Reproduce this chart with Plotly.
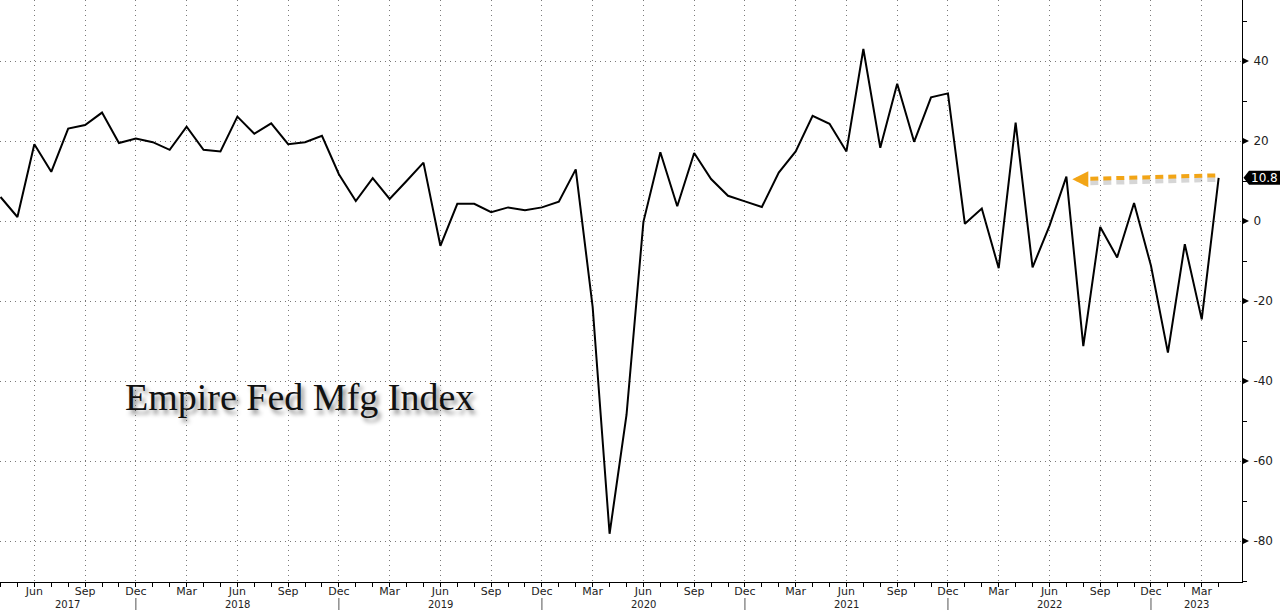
import pandas as pd
import plotly.graph_objects as go

# ---------------- data ----------------
months = pd.date_range("2017-04-01", "2023-04-01", freq="MS")
values = [
    6.0, 1.0, 19.2, 12.3, 23.1, 24.0, 27.1, 19.5, 20.6,                 # 2017 Apr-Dec
    19.7, 17.8, 23.6, 17.8, 17.4, 26.1, 21.8, 24.4, 19.2, 19.7, 21.3, 11.7,  # 2018
    5.0, 10.7, 5.5, 10.0, 14.6, -6.2, 4.3, 4.3, 2.2, 3.4, 2.7, 3.4,     # 2019
    4.8, 12.9, -21.5, -78.2, -48.5, -0.2, 17.2, 3.7, 17.0, 10.5, 6.3, 4.9,  # 2020
    3.5, 12.1, 17.4, 26.3, 24.3, 17.4, 43.0, 18.3, 34.3, 19.8, 30.9, 31.9,  # 2021
    -0.7, 3.1, -11.8, 24.6, -11.6, -1.2, 11.1, -31.3, -1.5, -9.1, 4.5, -11.2,  # 2022
    -32.9, -5.8, -24.6, 10.8,                                            # 2023 Jan-Apr
]
y_ticks = [40, 20, 0, -20, -40, -60, -80]
y_minor = [50, 30, 10, -10, -30, -50, -70, -90]
title_text = "Empire Fed Mfg Index"
month_abbr = {3: "Mar", 6: "Jun", 9: "Sep", 12: "Dec"}

idx = list(range(len(months)))
x_tickvals = [i for i, m in enumerate(months) if m.month in month_abbr]
x_ticktext = [month_abbr[months[i].month] for i in x_tickvals]

X0, X1 = -0.03, 73.38
Y0, Y1 = -90.25, 55.25

fig = go.Figure()
fig.add_trace(go.Scatter(x=idx, y=values, mode="lines",
                         line=dict(color="black", width=2), hoverinfo="skip",
                         showlegend=False))

tick_font = dict(family="DejaVu Sans", size=12, color="#222")
month_font = dict(family="DejaVu Sans", size=11, color="#222")
year_font = dict(family="DejaVu Sans", size=10, color="#222")

fig.update_layout(
    width=1280, height=610,
    margin=dict(l=0, r=38, t=0, b=28),
    paper_bgcolor="white", plot_bgcolor="white",
    showlegend=False,
    xaxis=dict(range=[X0, X1], tickvals=x_tickvals, ticktext=x_ticktext,
               showgrid=True, gridcolor="#7a7a7a", griddash="1px,4px", gridwidth=1,
               ticks="outside", ticklen=4, tickcolor="black", tickfont=month_font,
               ticklabelstandoff=-5,
               minor=dict(tickvals=idx, ticks="outside", ticklen=4, tickcolor="black",
                          showgrid=False),
               showline=True, linecolor="black", linewidth=1, zeroline=False,
               fixedrange=True),
    yaxis=dict(range=[Y0, Y1], side="right", tickvals=y_ticks,
               ticktext=[str(v) for v in y_ticks],
               showgrid=True, gridcolor="#7a7a7a", griddash="1px,4px", gridwidth=1,
               ticks="outside", ticklen=8, tickcolor="rgba(0,0,0,0)", tickfont=tick_font,
               minor=dict(tickvals=y_minor, ticks="outside", ticklen=4, tickcolor="black",
                          showgrid=False),
               showline=True, linecolor="black", linewidth=1, zeroline=False,
               fixedrange=True),
)

def ypaper(v):
    return (v - Y0) / (Y1 - Y0)

shapes = []
# triangular major ticks on right axis
for v in y_ticks:
    shapes.append(dict(type="path", xref="paper", yref="paper", xsizemode="pixel",
                       ysizemode="pixel", xanchor=1, yanchor=ypaper(v),
                       path="M0,3.5 L7,0 L0,-3.5 Z", fillcolor="black",
                       line=dict(width=0)))
# year separators below the axis
for i, m in enumerate(months):
    if m.month == 12:
        shapes.append(dict(type="line", xref="x", yref="paper", x0=i, x1=i,
                           y0=-16 / 582, y1=-30 / 582,
                           line=dict(color="#555", width=1)))
# last value label box
last_v = values[-1]
shapes.append(dict(type="path", xref="paper", yref="paper", xsizemode="pixel",
                   ysizemode="pixel", xanchor=1, yanchor=ypaper(last_v),
                   path="M1.5,0 L7,7 L46,7 L46,-7 L7,-7 Z", fillcolor="black",
                   line=dict(width=0)))
# orange dashed arrow (with soft shadow)
jul22 = [i for i, m in enumerate(months) if m.year == 2022 and m.month == 7][0]
tail_x, tip_x = idx[-1] - 0.2, jul22 + 1.0
shapes.append(dict(type="line", xref="x", yref="y", x0=tail_x, x1=tip_x,
                   y0=last_v - 0.4, y1=last_v - 1.3,
                   line=dict(color="rgba(120,120,120,0.3)", width=5, dash="8px,5px")))
shapes.append(dict(type="line", xref="x", yref="y", x0=tail_x, x1=tip_x,
                   y0=last_v + 0.6, y1=last_v - 0.3,
                   line=dict(color="#F2A516", width=4, dash="8px,5px")))
fig.update_layout(shapes=shapes)

annotations = []
# arrow head
annotations.append(dict(x=jul22 + 0.35, y=last_v - 0.35, xref="x", yref="y",
                        ax=tip_x + 0.3, ay=last_v - 0.35, axref="x", ayref="y",
                        text="", showarrow=True, arrowhead=2, arrowsize=0.8,
                        arrowwidth=4, arrowcolor="#F2A516"))
annotations.append(dict(x=1, y=ypaper(last_v), xref="paper", yref="paper",
                        xanchor="left", yanchor="middle", xshift=7,
                        text="10.8", showarrow=False,
                        font=dict(family="DejaVu Sans", size=12, color="white")))
# year labels
years = sorted(set(m.year for m in months))
for yr in years:
    dec_prev = [i for i, m in enumerate(months) if m.year == yr - 1 and m.month == 12]
    dec_this = [i for i, m in enumerate(months) if m.year == yr and m.month == 12]
    left = dec_prev[0] if dec_prev else X0
    right = dec_this[0] if dec_this else X1
    annotations.append(dict(x=(left + right) / 2, y=0, xref="x", yref="paper",
                            yanchor="top", yshift=-15, text=str(yr), showarrow=False,
                            font=year_font))
# chart title inside plot
annotations.append(dict(x=123 / 1242, y=0.318, xref="paper", yref="paper",
                        xanchor="left", yanchor="middle", text=title_text,
                        showarrow=False,
                        font=dict(family="Liberation Serif", size=38, color="#111",
                                  shadow="3px 4px 4px rgba(0,0,0,0.45)")))
fig.update_layout(annotations=annotations)

fig.write_html("out.html", config={"displayModeBar": False},
               post_script="document.body.style.margin='0px';document.body.style.overflow='hidden';")
